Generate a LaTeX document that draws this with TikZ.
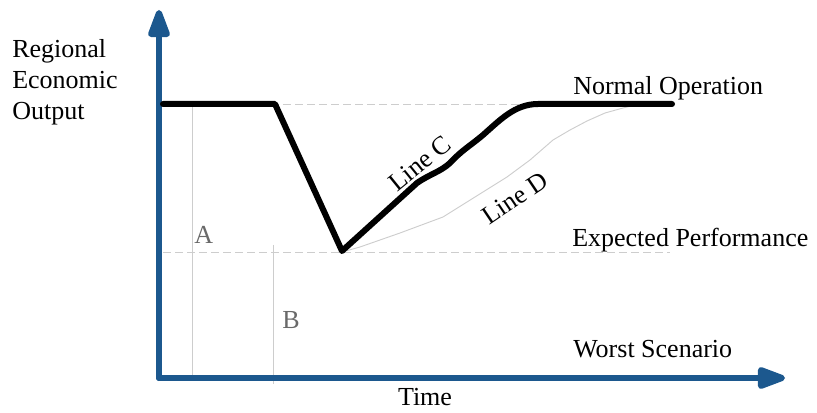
\documentclass[tikz,border=0pt]{standalone}
\usepackage{fontspec}
\setmainfont{Liberation Serif}
\usetikzlibrary{arrows.meta}
\definecolor{axisblue}{RGB}{28,88,142}
\definecolor{guidegray}{RGB}{205,205,205}
\definecolor{labgray}{RGB}{105,105,105}
\begin{document}
\begin{tikzpicture}[x=0.75pt,y=-0.75pt,
  axisline/.style={draw=axisblue,line width=4.5pt,line cap=round,line join=round,
     -{Triangle[length=25pt,width=17pt,round]}},
  perfline/.style={draw=black,line width=4.5pt,line join=round,line cap=round},
  dline/.style={draw=guidegray,line width=0.7pt},
  guide/.style={draw=guidegray,line width=0.6pt},
  guidedash/.style={draw=guidegray,line width=0.6pt,dash pattern=on 6pt off 3pt},
  lbl/.style={font=\fontsize{19.5pt}{23pt}\selectfont,inner sep=0pt},
  glbl/.style={lbl,text=labgray}]
\useasboundingbox (0,0) rectangle (817,413);
% guides
\draw[guidedash] (163,104) -- (670,104);
\draw[guidedash] (163,252) -- (670,252);
\draw[guide] (192,106) -- (192,378);
\draw[guide] (273,245) -- (273,384);
% axes
\coordinate (O) at (159,378);
\coordinate (ytip) at (159,10);
\coordinate (xtip) at (785,378);
\draw[axisline] (O) -- (ytip);
\draw[axisline] (O) -- (xtip);
% line D
\draw[dline] (342,252) -- (360,247) -- (400,233) -- (443,217) -- (475,197) -- (507,177) -- (530,160) -- (553,140) -- (570,130) -- (587,121) -- (605,113) -- (623,108) -- (640,104);
% performance line
\draw[perfline] (163,104) -- (275,104) -- (342,251) -- (417,183)
  .. controls (430,174) and (440,172) .. (450,163)
  .. controls (462,150) and (470,146) .. (483,135)
  .. controls (500,120) and (515,104) .. (538,104) -- (672,104);
% labels
\node[lbl,anchor=base west] (ylab1) at (12,58) {Regional};
\node[lbl,anchor=base west] (ylab2) at (12,89) {Economic};
\node[lbl,anchor=base west] (ylab3) at (12,120) {Output};
\node[lbl,anchor=base west] (normal) at (573,95) {Normal Operation};
\node[lbl,anchor=base west] (expected) at (572,247) {Expected Performance};
\node[lbl,anchor=base west] (worst) at (573,357) {Worst Scenario};
\node[lbl,anchor=base] (time) at (425,405) {Time};
\node[lbl,rotate=39,anchor=base] (linec) at (425,170) {Line C};
\node[lbl,rotate=34,anchor=base] (lined) at (520,205) {Line D};
\node[glbl,anchor=base west] (A) at (194,244) {A};
\node[glbl,anchor=base west] (B) at (282,328) {B};
\end{tikzpicture}
\end{document}
